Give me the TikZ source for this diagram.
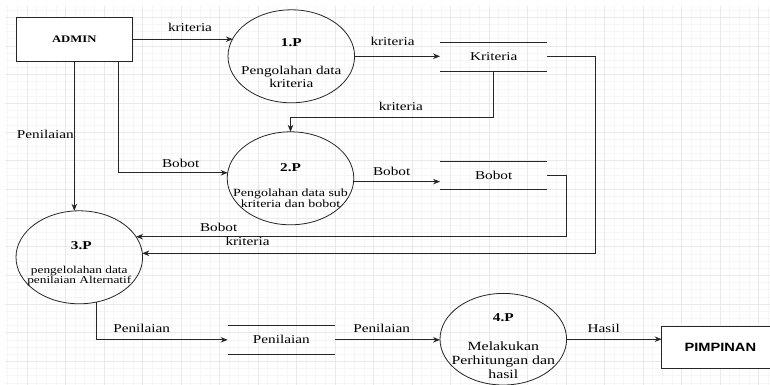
\documentclass[tikz,border=0pt]{standalone}
\usepackage{fontspec}
\setmainfont{Liberation Serif}[FakeStretch=1.27]
\newfontfamily\sansb{Liberation Sans}[FakeStretch=1.22]
\usetikzlibrary{arrows.meta,shapes.geometric}
\definecolor{linec}{HTML}{262626}
\definecolor{gridminor}{HTML}{F6F6F6}
\definecolor{gridmajor}{HTML}{E9E9E9}
\begin{document}
\begin{tikzpicture}[x=1pt,y=-1pt,
  every node/.style={inner sep=0pt, outer sep=0pt},
  proc/.style={ellipse, draw=linec, line width=0.8pt, minimum width=126.6pt, minimum height=93pt},
  ext/.style={rectangle, draw=linec, line width=0.8pt, fill=white},
  store/.style={minimum width=107.3pt, minimum height=28.3pt, font=\fontsize{12}{12}\selectfont},
  storeline/.style={draw=linec, line width=0.8pt},
  flow/.style={draw=linec, line width=0.8pt, -{Stealth[length=7pt,width=5.5pt]}},
  lbl/.style={font=\fontsize{12}{12}\selectfont, text height=1.5ex, text depth=.25ex},
  head/.style={font=\fontsize{12}{12}\selectfont\bfseries, text height=1.5ex, text depth=.25ex},
  body/.style={align=center},
]
\useasboundingbox (0,0) rectangle (770,385);
\fill[white] (0,0) rectangle (770,385);
% grid
\foreach \i in {0,...,79} {\draw[gridminor, line width=0.6pt] ({7.75+9.625*\i},6) -- ({7.75+9.625*\i},385);}
\foreach \j in {0,...,53} {\draw[gridminor, line width=0.6pt] (5,{10.13+7.167*\j}) -- (770,{10.13+7.167*\j});}
\foreach \i in {0,...,19} {\draw[gridmajor, line width=0.8pt] ({27+38.5*\i},6) -- ({27+38.5*\i},385);}
\foreach \j in {0,...,12} {\draw[gridmajor, line width=0.8pt] (5,{17.3+28.67*\j}) -- (770,{17.3+28.67*\j});}

% external entities
\node[ext, minimum width=116.7pt, minimum height=43.7pt, font=\fontsize{10}{10}\selectfont\bfseries] (admin) at (74.3,39.2) {ADMIN};
\node[ext, minimum width=117.3pt, minimum height=42.3pt, font=\sansb\fontsize{12}{12}\selectfont\bfseries] (pim) at (720.3,347.2) {PIMPINAN};

% processes
\node[proc] (p1) at (291.3,56.3) {};
\node[proc] (p2) at (290.5,178.3) {};
\node[proc] (p3) at (79.3,257.3) {};
\node[proc, minimum height=91.6pt] (p4) at (503.3,339.2) {};

\node[head] (t1h) at (291.3,43.3) {1.P};
\node[body, font=\fontsize{12}{12.7}\selectfont] (t1b) at (291.3,76.6) {Pengolahan data\\kriteria};
\node[head] (t2h) at (290.5,168.3) {2.P};
\node[body, font=\fontsize{11}{10.8}\selectfont] (t2b) at (290.5,198.3) {Pengolahan data sub\\kriteria dan bobot};
\node[head] (t3h) at (81.3,246.7) {3.P};
\node[body, font=\fontsize{10.5}{10}\selectfont] (t3b) at (79.3,276) {pengelolahan data\\penilaian Alternatif};
\node[head] (t4h) at (503.3,318.3) {4.P};
\node[body, font=\fontsize{12.5}{13.8}\selectfont] (t4b) at (503.3,360.5) {Melakukan\\Perhitungan dan\\hasil};

% data stores
\node[store] (ks) at (493.7,56.85) {Kriteria};
\node[store] (bs) at (493.7,175.2) {Bobot};
\node[store] (ps) at (281.3,339.85) {Penilaian};
\foreach \s in {ks,bs,ps} {
  \draw[storeline] (\s.north west) -- (\s.north east);
  \draw[storeline] (\s.south west) -- (\s.south east);
}

% helper coordinates
\coordinate (kbend) at (0,117.7);
\coordinate (kr) at (595,253.3);
\coordinate (br) at (566,236.7);

% flows
\draw[flow] (admin.east) -- (admin.east -| p1.163);
\draw[flow] ([xshift=102.3pt]admin.south west) |- (p2.175);
\draw[flow] (admin.south) -- (admin.south |- p3.north);
\draw[flow] (p1.east) -- (p1.east -| ks.west);
\draw[flow] (ks.south) -- (ks.south |- kbend) -| (p2.north);
\draw[flow] (ks.east) -| (kr) -- (kr -| p3.4);
\draw[flow] (p2.357) -- (p2.357 -| bs.west);
\draw[flow] (bs.east) -| (br) -- (br -| p3.20);
\draw[flow] (p3.291) |- (ps.west);
\draw[flow] (ps.east) -- (ps.east -| p4.180);
\draw[flow] (p4.east) -- (p4.east -| pim.west);

% labels
\node[lbl] (l1) at (190,29) {kriteria};
\node[lbl] (l2) at (392.5,42.7) {kriteria};
\node[lbl] (l3) at (400.8,107.3) {kriteria};
\node[lbl] (l4) at (180.7,164.3) {Bobot};
\node[lbl] (l5) at (391.7,172.3) {Bobot};
\node[lbl] (l6) at (45.3,136) {Penilaian};
\node[lbl] (l7) at (218.7,229) {Bobot};
\node[lbl] (l8) at (247.5,242.7) {kriteria};
\node[lbl] (l9) at (141.7,329.3) {Penilaian};
\node[lbl] (l10) at (381.7,329.3) {Penilaian};
\node[lbl] (l11) at (603.8,329.3) {Hasil};
\end{tikzpicture}
\end{document}
